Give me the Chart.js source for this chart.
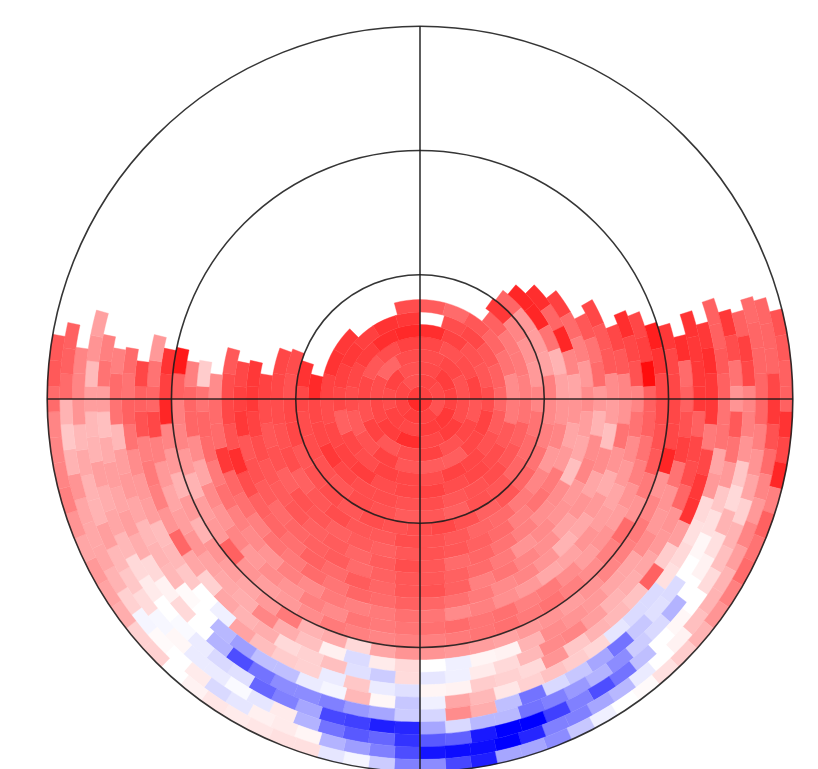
<!DOCTYPE html>
<html lang="en">
<head>
    <meta charset="UTF-8">
    <title>Polar map</title>
    <style>
        html, body {
            margin: 0;
            background: #fff;
            overflow: hidden;
        }

        #skyChart {
            display: block;
        }
    </style>
</head>
<body>
    <canvas id="skyChart" width="840" height="798"></canvas>
    <script src="https://cdn.jsdelivr.net/npm/chart.js"></script>
    <script>
        const _ = null; // no data in this cell

        // cells per ring, index of the first filled cell and a small turn in degrees, centre outwards
        const ringCells  = [4,8,10,12,16,18,22,24,28,30,34,36,40,42,46,48,52,54,58,60,64,66,70,72,76,78,82,84,88,90];
        const ringStarts = [0,0,0,0,0,0,1,0,3,3,4,4,5,6,8,8,10,10,11,12,13,14,14,15,15,16,17,17,18,19];
        const ringTurns  = [0,0,0,0,0,0,0,0,0,0,-5,0,0,0,0,0,0,0,0,0,0,0,0,0,0,0,0,0,0,0];

        // filled cells of each ring, clockwise, value in percent (-100 blue .. 100 red)
        const ring01 = [74,79,84,76];
        const ring02 = [73,71,68,74,76,74,72,68];
        const ring03 = [71,76,74,78,76,72,74,70,74,68];
        const ring04 = [70,72,68,70,76,72,82,76,72,70,60,70];
        const ring05 = [72,68,70,74,66,72,68,74,70,66,74,68,72,66,70,74];
        const ring06 = [82,74,68,66,70,74,72,63,64,66,74,68,64,70,72,76,82,84];
        const ring07 = [70,72,66,62,60,64,68,72,74,70,72,74,70,72,62,72,75,78,75,80,78];
        const ring08 = [64,58,66,60,55,45,52,65,70,72,70,74,72,70,76,74,72,70,74,80,78,_,_,70];
        const ring09 = [62,52,52,50,55,62,66,70,68,66,70,68,70,70,72,78,72,72,84];
        const ring10 = [78,48,42,40,48,55,58,60,66,68,62,66,64,68,70,66,68,70,70,72,80];
        const ring11 = [60,40,38,36,50,46,50,55,60,66,62,68,72,70,68,70,66,70,68,66,72,72,68,70];
        const ring12 = [85,85,55,30,36,42,48,40,48,52,58,60,65,68,70,65,66,70,66,62,70,68,70,72,72];
        const ring13 = [82,60,85,48,35,42,35,40,52,55,50,58,62,66,68,66,62,64,62,66,68,62,68,66,70,74];
        const ring14 = [75,58,50,40,45,38,34,25,45,44,50,55,60,58,66,70,64,60,64,62,66,64,66,70,74,78,78];
        const ring15 = [66,55,58,40,30,45,48,40,42,46,42,52,58,62,66,66,62,58,64,62,60,58,64,68,66,78,75,72];
        const ring16 = [72,65,65,45,38,25,45,35,42,36,44,48,54,50,62,68,66,60,64,58,62,56,60,62,70,82,68,72,70,65];
        const ring17 = [72,65,48,42,55,42,32,40,34,30,42,48,46,52,56,60,62,58,60,54,58,52,55,50,56,60,78,58,58,45];
        const ring18 = [82,72,68,48,55,45,40,35,38,42,36,34,40,44,50,46,54,56,52,50,52,46,50,42,46,50,56,52,58,60,55,20];
        const ring19 = [72,75,95,62,62,55,50,42,38,42,38,45,52,50,56,54,58,56,54,52,54,46,50,42,45,40,48,42,46,35,45,60,60,50];
        const ring20 = [88,80,72,70,68,65,52,42,58,50,45,50,55,52,56,54,52,50,50,48,50,52,45,40,38,42,62,40,38,30,40,48,50,62,90];
        const ring21 = [78,72,72,72,72,85,42,48,52,50,48,42,38,42,40,36,38,40,42,42,35,15,33,30,52,40,35,38,42,30,40,30,40,48,85,75,80];
        const ring22 = [82,58,62,68,75,55,42,40,45,35,35,40,42,45,30,5,4,-6,0,15,8,-14,6,25,32,48,32,34,36,42,38,35,40,50,72,60,55,40];
        const ring23 = [80,78,78,78,62,72,70,60,42,40,35,32,30,38,48,46,28,15,8,-6,-10,14,-20,-12,25,18,15,32,30,35,18,35,60,42,50,52,50,68,62,72];
        const ring24 = [78,82,78,78,52,72,78,80,38,20,62,24,28,30,22,42,15,18,20,5,4,-12,-8,22,-8,18,20,26,36,-6,0,22,28,26,38,40,45,55,62,55,58];
        const ring25 = [62,62,65,62,55,55,35,40,15,12,15,12,-14,-14,-10,16,20,24,18,10,28,35,-6,-22,3,28,-4,-8,-25,-25,-38,-28,0,2,28,30,28,35,40,38,28,55,58,50];
        const ring26 = [78,70,55,42,65,55,40,22,12,3,0,-14,-12,-22,-55,-35,-22,-15,-55,-25,32,45,-16,-20,-35,-40,-50,-45,-45,-55,-70,-30,0,15,5,15,32,38,35,38,33,25,38,55,50];
        const ring27 = [62,75,72,48,50,42,22,15,30,12,5,0,-30,-15,-20,-45,-30,-40,-50,-55,-28,-28,-15,-35,-85,-88,-75,-72,-35,-50,-60,-12,-15,-8,-2,0,8,15,28,35,32,38,30,28,38,27,42,37];
        const ring28 = [58,60,60,60,60,50,42,35,18,30,25,14,0,3,0,-25,-55,-70,-50,-75,-100,-100,-90,-62,-65,-80,-60,-65,-55,-30,8,-10,-2,-8,-8,3,-3,14,22,28,38,30,30,34,28,42,48,48];
        const ring29 = [60,60,60,72,78,68,58,48,40,48,38,30,30,25,5,0,-8,-28,-35,-50,-50,-85,-100,-95,-95,-92,-70,-50,-38,-30,4,8,6,-10,-15,8,0,2,-4,18,30,35,34,35,42,30,22,30,58,62,62];
        const ring30 = [68,65,62,62,80,72,85,50,62,55,58,50,42,30,20,12,2,0,-6,-22,-45,-35,-35,-88,-72,-45,-50,-20,-4,-10,12,12,10,8,10,5,0,18,18,32,36,40,35,42,50,48,48,48,58,65,65];

        const rings = [
            ring01, ring02, ring03, ring04, ring05, ring06, ring07, ring08, ring09, ring10,
            ring11, ring12, ring13, ring14, ring15, ring16, ring17, ring18, ring19, ring20,
            ring21, ring22, ring23, ring24, ring25, ring26, ring27, ring28, ring29, ring30
        ];

        // rings whose outer edge carries a grid circle
        const gridRings = [10, 20, 30];

        // blue - white - red
        function cellColor(v) {
            if (v === null || v === undefined) return 'rgba(255,255,255,0)';
            const k = Math.round(255 * (1 - Math.abs(v) / 100));
            return v >= 0 ? `rgb(255,${k},${k})` : `rgb(${k},${k},255)`;
        }

        function ringDataset(ring, i) {
            const colors = [];
            for (let c = 0; c < ringCells[i]; c++) {
                colors.push(cellColor(ring[c - ringStarts[i]]));
            }
            return {
                data: colors.map(() => 1),
                backgroundColor: colors,
                borderColor: colors,
                borderWidth: 0.4,
                rotation: ringTurns[i]
            };
        }

        // first dataset is the outermost ring of a doughnut
        const datasets = rings.map(ringDataset).reverse();

        const gridPlugin = {
            id: 'polarGrid',
            afterDatasetsDraw(chart) {
                const ctx = chart.ctx;
                const arcAt = n => chart.getDatasetMeta(rings.length - n).data[0];
                const outer = arcAt(rings.length);
                ctx.save();
                ctx.strokeStyle = 'rgba(25,25,25,0.88)';
                ctx.lineWidth = 1.6;
                gridRings.forEach(n => {
                    ctx.beginPath();
                    ctx.arc(outer.x, outer.y, arcAt(n).outerRadius, 0, Math.PI * 2);
                    ctx.stroke();
                });
                ctx.beginPath();
                ctx.moveTo(outer.x - outer.outerRadius, outer.y);
                ctx.lineTo(outer.x + outer.outerRadius, outer.y);
                ctx.moveTo(outer.x, outer.y - outer.outerRadius);
                ctx.lineTo(outer.x, outer.y + outer.outerRadius);
                ctx.stroke();
                ctx.restore();
            }
        };

        new Chart(document.getElementById('skyChart'), {
            type: 'doughnut',
            data: {
                labels: datasets[0].data.map((v, i) => i),
                datasets: datasets
            },
            options: {
                responsive: false,
                animation: false,
                cutout: 0,
                layout: { padding: 26 },
                plugins: {
                    legend: { display: false },
                    tooltip: { enabled: false }
                }
            },
            plugins: [gridPlugin]
        });
    </script>
</body>
</html>
